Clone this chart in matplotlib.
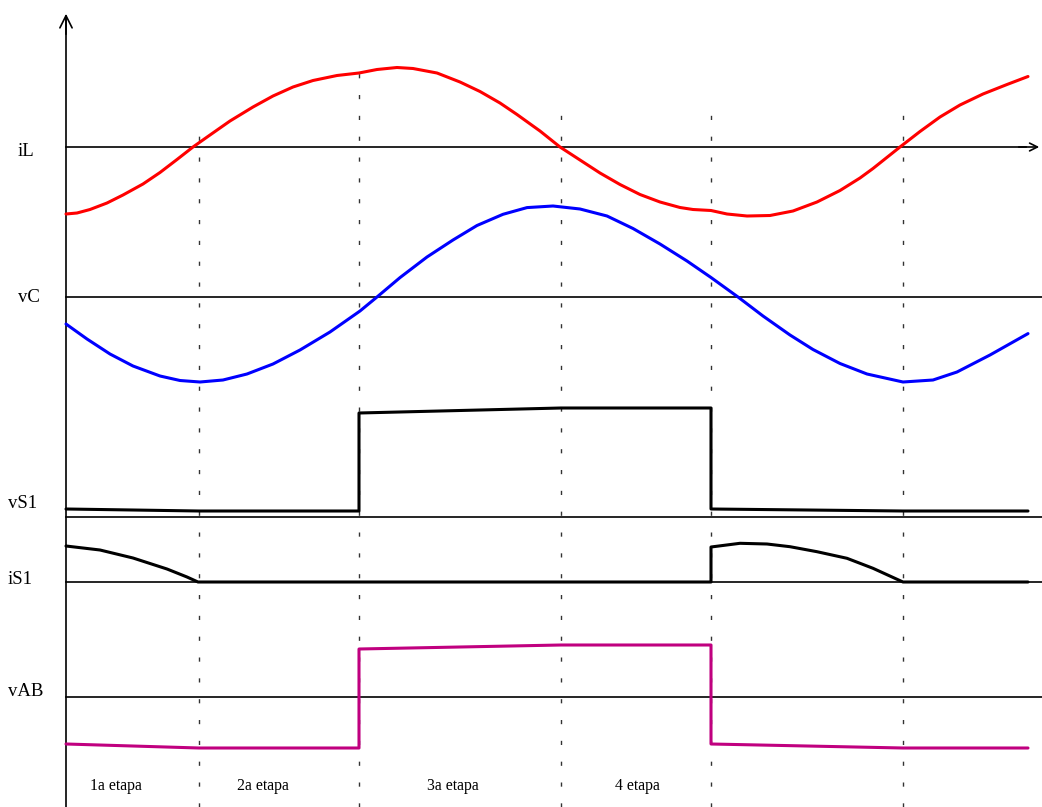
import matplotlib.pyplot as plt

# Time base (arbitrary units, origin at the vertical axis)
STAGE_T = [133, 293, 495, 645, 837]
STAGE_TOP = [687, 747, 695, 695, 695]
STAGE_NAMES = ['1a etapa', '2a etapa', '3a etapa', '4 etapa']
STAGE_LABEL_T = [50, 197, 387, 571]

# Inductor current iL
T_IL = [0, 11, 24, 41, 57, 77, 94, 111, 127, 144, 164, 187, 207, 227, 247,
        271, 293, 311, 331, 347, 371, 394, 414, 434, 451, 467, 474, 494,
        514, 534, 554, 574, 594, 614, 627, 645, 661, 681, 704, 727, 751,
        774, 794, 807, 834, 854, 874, 894, 917, 941, 962]
IL = [-67, -66, -62.5, -56, -48, -37, -25.5, -12.5, 0, 12, 26, 40, 51, 60,
      66.5, 71.5, 74, 77.5, 79.5, 78.5, 74, 65, 55.5, 44, 32.5, 21, 16, 0,
      -13, -26, -37.5, -47.5, -55, -60.5, -62.5, -63.5, -67, -69, -68.5,
      -64, -55, -43.5, -31, -21.5, 0, 15.5, 30, 42, 53, 62.5, 70.5]

# Capacitor voltage vC
T_VC = [0, 21, 44, 67, 94, 114, 134, 157, 181, 207, 234, 264, 294, 311, 334,
        361, 387, 411, 437, 461, 487, 514, 541, 567, 594, 621, 645, 672,
        697, 724, 747, 774, 801, 837, 867, 891, 924, 962]
VC = [-27, -42, -57, -69, -79, -83.5, -85, -83, -77, -67, -53, -35, -14, 0,
      19.4, 40, 57, 71.5, 82.7, 89.4, 91, 88, 81, 68.5, 53, 36, 19.5, 0,
      -19, -38, -52.5, -66.5, -77, -85, -83, -75, -58, -36.6]

# Switch voltage vS1
T_VS1 = [0, 133, 293, 293, 495, 645, 645, 837, 962]
VS1 = [8, 6, 6, 104, 109, 109, 8, 6, 6]

# Switch current iS1
T_IS1 = [0, 34, 67, 101, 121, 132, 645, 645, 674, 701, 724, 751, 781, 807,
         837, 962]
IS1 = [36, 32, 24, 13, 5, 0, 0, 35, 38.7, 38, 35.3, 30.3, 23.7, 13.7, 0, 0]

# Bridge voltage vAB
T_VAB = [0, 133, 293, 293, 495, 645, 645, 837, 962]
VAB = [-47, -51, -51, 48, 52, 52, -47, -51, -51]

# Vertical baseline of each trace
BASE = {'iL': 660, 'vC': 510, 'vS1': 290, 'iS1': 225, 'vAB': 110}
LABEL_X = {'iL': -48, 'vC': -48, 'vS1': -58, 'iS1': -58, 'vAB': -58}
LABEL_Y = {'iL': 655, 'vC': 510, 'vS1': 304, 'iS1': 227, 'vAB': 115}

plt.rcParams['font.family'] = ['Liberation Serif', 'DejaVu Serif']

fig = plt.figure(figsize=(10.42, 8.07), dpi=100)
ax = fig.add_axes([0, 0, 1, 1])
ax.set_xlim(-66, 976)
ax.set_ylim(0, 807)
ax.axis('off')

# stage separators
for t, top in zip(STAGE_T, STAGE_TOP):
    ax.plot([t, t], [0, top], color='#333333', lw=1.0,
            linestyle=(0, (3, 12)), zorder=1)

# vertical axis with open arrow
ax.plot([0, 0], [0, 790], color='black', lw=1.2, zorder=2)
ax.annotate('', xy=(0, 796), xytext=(0, 770),
            arrowprops=dict(arrowstyle='->', color='black', lw=1.2,
                            mutation_scale=22))

# baselines
for name, b in BASE.items():
    if name == 'iL':
        ax.plot([0, 960], [b, b], color='black', lw=1.2, zorder=2)
        ax.annotate('', xy=(976, b), xytext=(950, b),
                    arrowprops=dict(arrowstyle='->', color='black', lw=1.2,
                                    mutation_scale=14))
    else:
        ax.plot([0, 976], [b, b], color='black', lw=1.2, zorder=2)
    ax.text(LABEL_X[name], LABEL_Y[name], name, fontsize=13.5,
            ha='left', va='center')

# waveforms
style = dict(lw=2.2, zorder=3, solid_joinstyle='round', solid_capstyle='round')
ax.plot(T_IL, [BASE['iL'] + v for v in IL], color='#ff0000', **style)
ax.plot(T_VC, [BASE['vC'] + v for v in VC], color='#0000ff', **style)
ax.plot(T_VS1, [BASE['vS1'] + v for v in VS1], color='black', **style)
ax.plot(T_IS1, [BASE['iS1'] + v for v in IS1], color='black', **style)
ax.plot(T_VAB, [BASE['vAB'] + v for v in VAB], color='#c0007f', **style)

# stage names
for t, name in zip(STAGE_LABEL_T, STAGE_NAMES):
    ax.text(t, 21, name, fontsize=11.3, ha='center', va='center')

fig.savefig('out.png', dpi=100)
